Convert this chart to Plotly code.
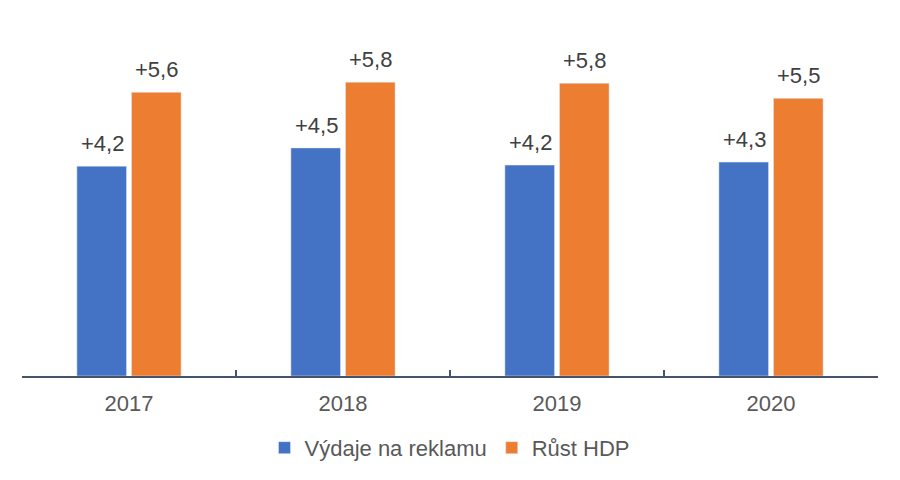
import plotly.graph_objects as go

# Data
years = ["2017", "2018", "2019", "2020"]
vydaje = [4.15, 4.51, 4.17, 4.23]
hdp = [5.61, 5.81, 5.79, 5.49]
vydaje_labels = ["+4,2", "+4,5", "+4,2", "+4,3"]
hdp_labels = ["+5,6", "+5,8", "+5,8", "+5,5"]

BLUE = "#4472C4"
ORANGE = "#ED7D31"
FONT = "Liberation Sans, Arial, sans-serif"

fig = go.Figure()
fig.add_trace(go.Bar(x=years, y=vydaje, name="Výdaje na reklamu", marker_color=BLUE))
fig.add_trace(go.Bar(x=years, y=hdp, name="Růst HDP", marker_color=ORANGE))

# value labels above bars (x given as category index)
annotations = []
for i, (v, t) in enumerate(zip(vydaje, vydaje_labels)):
    annotations.append(dict(x=i, y=v, text=t, showarrow=False, xshift=-27,
                            yanchor="bottom", yshift=8,
                            font=dict(size=22, color="#404040", family=FONT)))
for i, (v, t) in enumerate(zip(hdp, hdp_labels)):
    annotations.append(dict(x=i, y=v, text=t, showarrow=False, xshift=27,
                            yanchor="bottom", yshift=8,
                            font=dict(size=22, color="#404040", family=FONT)))

fig.update_layout(
    width=900, height=480,
    margin=dict(l=14, r=30, t=14, b=112, autoexpand=False),
    paper_bgcolor="white", plot_bgcolor="white",
    barmode="group", bargap=0.49, bargroupgap=0.09,
    font=dict(family=FONT, size=22, color="#595959"),
    annotations=annotations,
    legend=dict(orientation="h", x=0.5, xanchor="center", y=-0.203, yanchor="middle",
                font=dict(size=22, color="#595959"), itemwidth=30),
    xaxis=dict(type="category", range=[-0.5, 3.5], showline=True,
               linecolor="#44546A", linewidth=1.5,
               ticks="inside", ticklen=6, tickcolor="#44546A", tickwidth=1.5,
               tickson="boundaries", showgrid=False, ticklabelstandoff=7,
               tickfont=dict(size=22, color="#595959")),
    yaxis=dict(range=[0, 7.0], showticklabels=False, showgrid=False, zeroline=False),
)

fig.write_html("out.html")
